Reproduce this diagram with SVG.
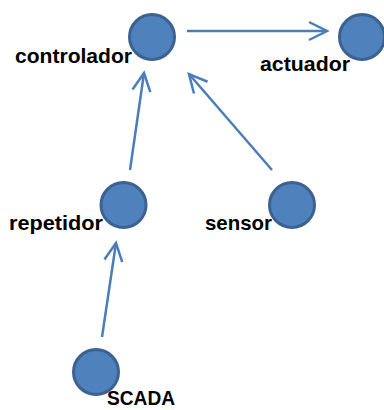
<svg xmlns="http://www.w3.org/2000/svg" width="384" height="410" viewBox="0 0 384 410">
<style>
.node circle{fill:#4f81bd;stroke:#3b6291;stroke-width:3}
.node text{font-family:"Liberation Sans",Arial,sans-serif;font-weight:bold;font-size:21px;fill:#000}
.edge{stroke:#4a7ebb;stroke-width:2.5;fill:none;marker-end:url(#arrow)}
</style>
<defs>
<marker id="arrow" markerUnits="userSpaceOnUse" markerWidth="24" markerHeight="24" viewBox="-20 -12 24 24" refX="0" refY="0" orient="auto">
<path d="M-18,-9 L0,0 L-18,9" fill="none" stroke="#4a7ebb" stroke-width="2.5" stroke-linejoin="miter"/>
</marker>
</defs>
<rect width="384" height="410" fill="#ffffff"/>
<g id="connectors">
<line class="edge" x1="187" y1="31" x2="327" y2="31"/>
<line class="edge" x1="130" y1="170" x2="144" y2="73"/>
<line class="edge" x1="272" y1="170" x2="189" y2="74"/>
<line class="edge" x1="102" y1="337" x2="116" y2="243"/>
</g>
<g id="controlador" class="node">
<circle cx="152" cy="37" r="22.5"/>
<text x="15" y="63" textLength="117" lengthAdjust="spacingAndGlyphs">controlador</text>
</g>
<g id="actuador" class="node">
<circle cx="362" cy="37" r="22.5"/>
<text x="260" y="71" textLength="90" lengthAdjust="spacingAndGlyphs">actuador</text>
</g>
<g id="repetidor" class="node">
<circle cx="123.5" cy="205" r="22.5"/>
<text x="9" y="230" textLength="94" lengthAdjust="spacingAndGlyphs">repetidor</text>
</g>
<g id="sensor" class="node">
<circle cx="292" cy="205" r="22.5"/>
<text x="205" y="230" textLength="67" lengthAdjust="spacingAndGlyphs">sensor</text>
</g>
<g id="SCADA" class="node">
<circle cx="96" cy="372" r="22.5"/>
<text x="107" y="405" textLength="68" lengthAdjust="spacingAndGlyphs">SCADA</text>
</g>
</svg>
